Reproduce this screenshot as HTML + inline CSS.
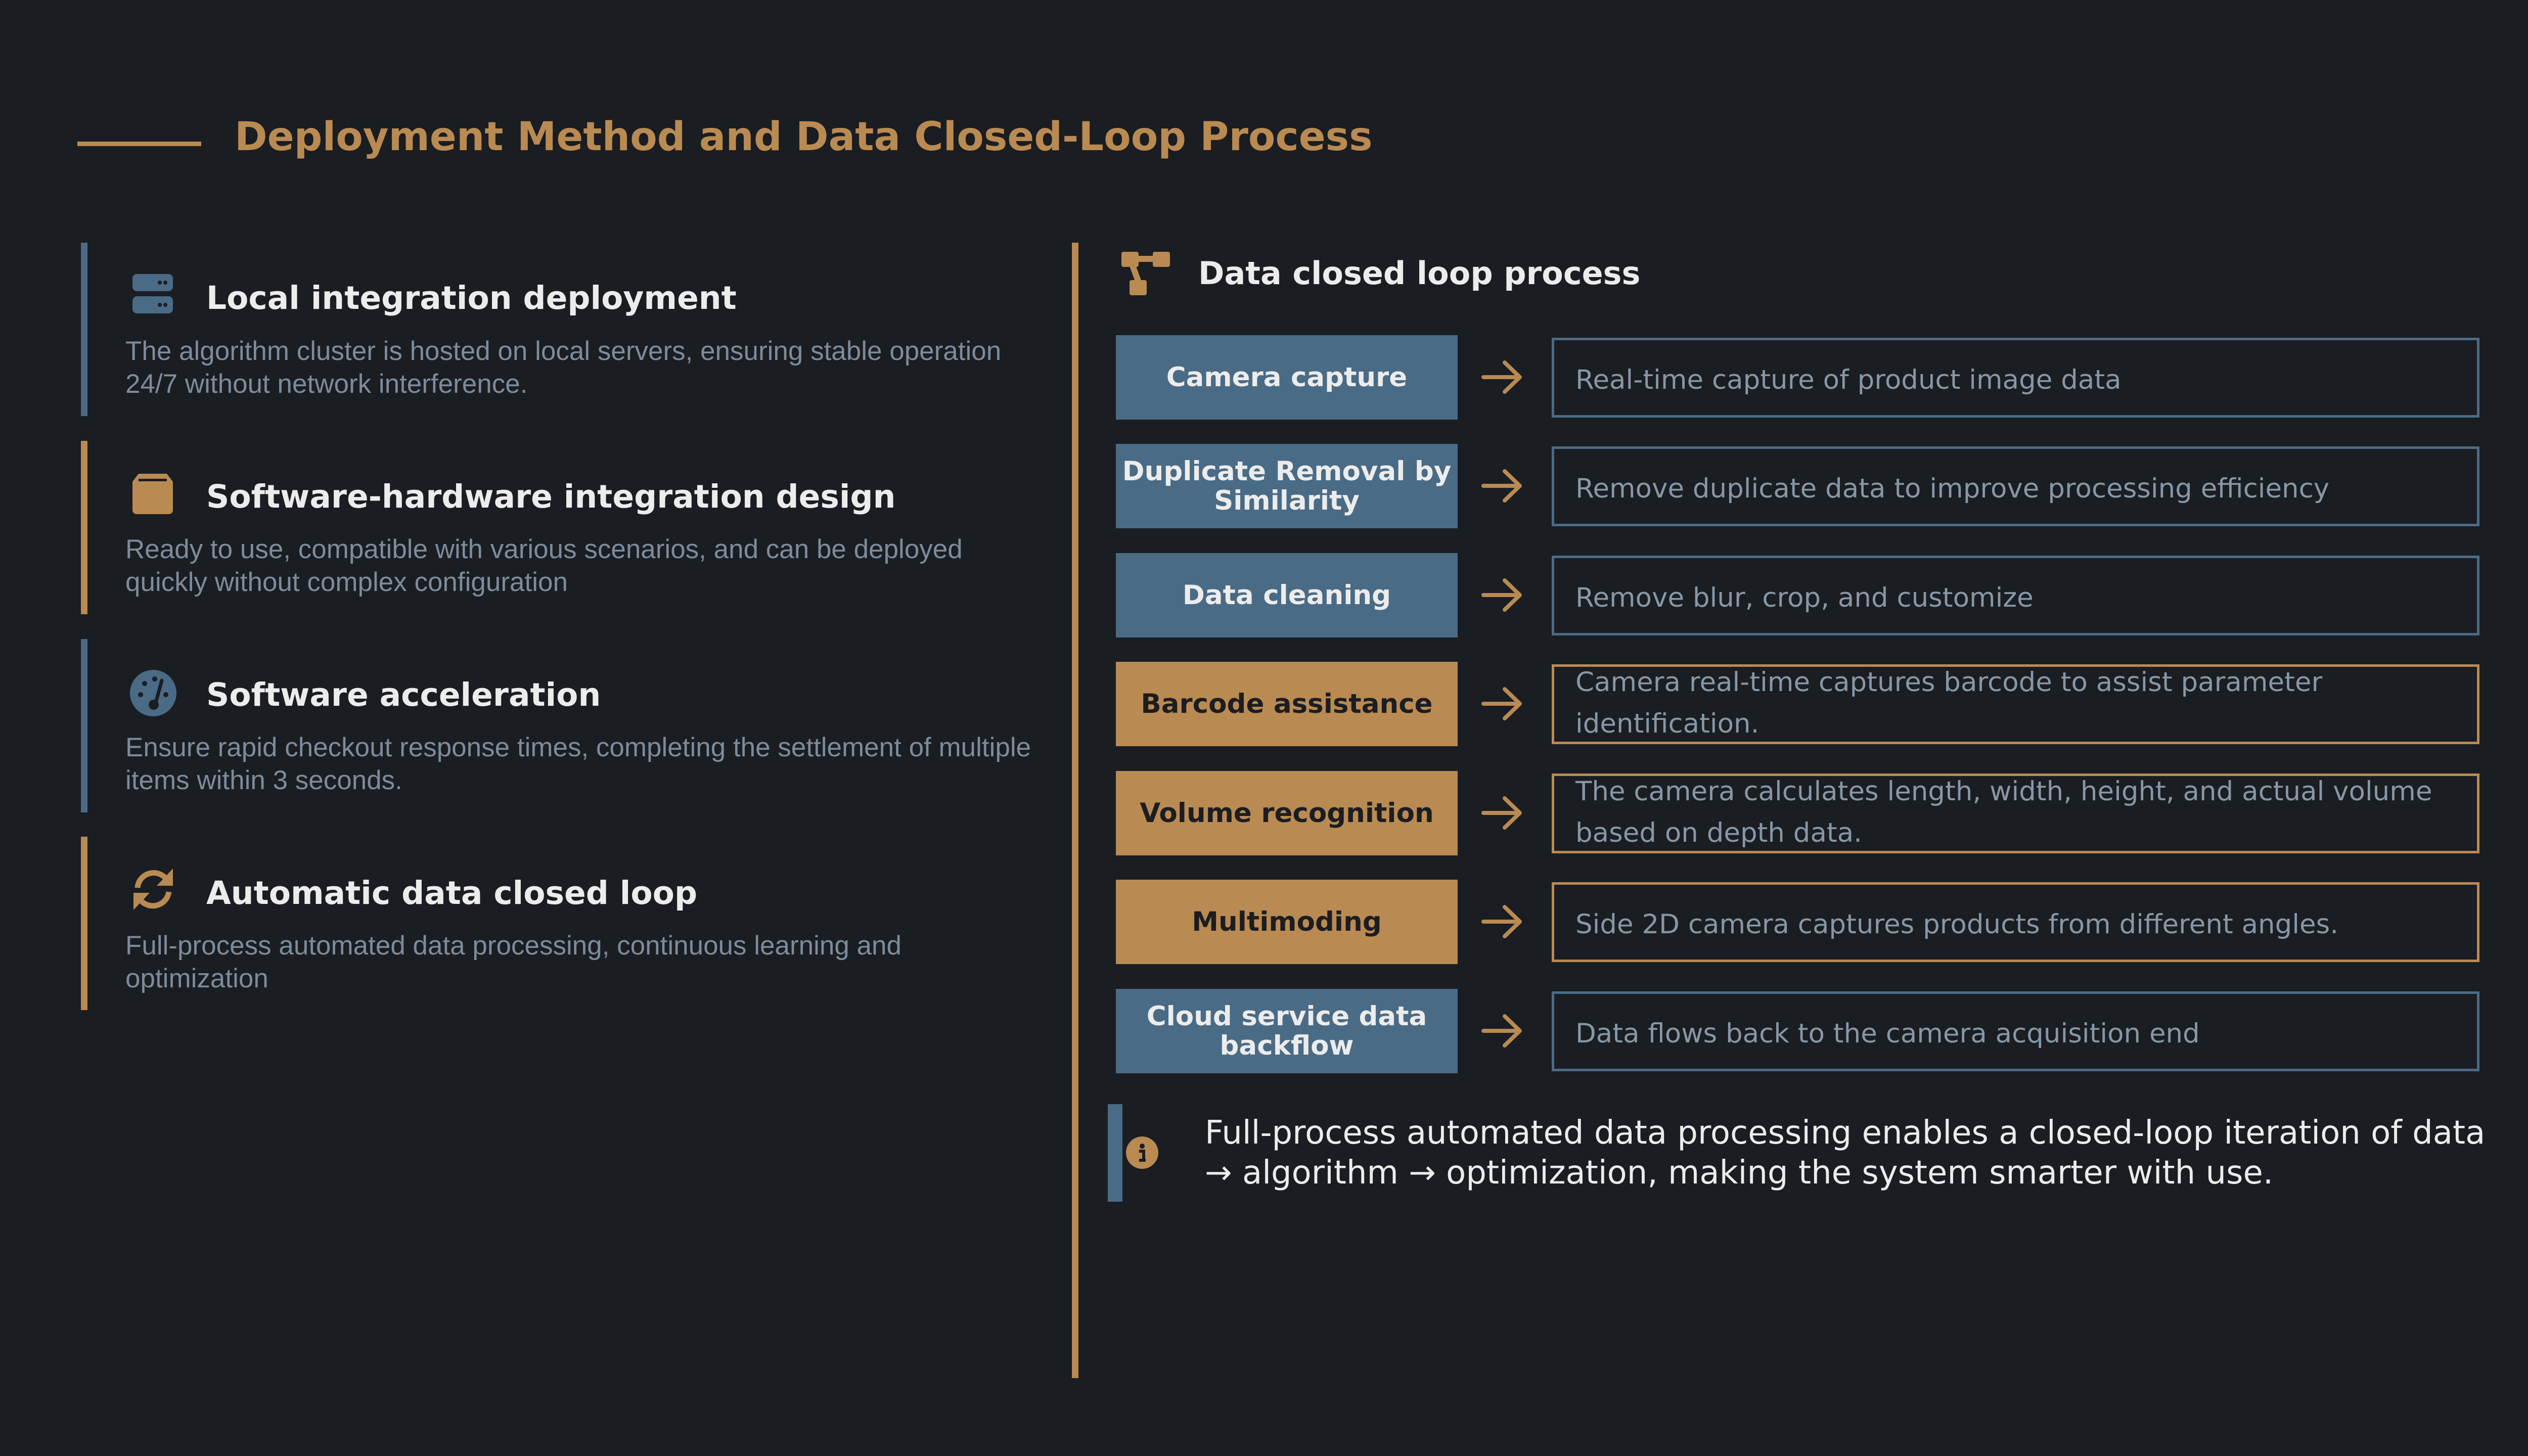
<!DOCTYPE html>
<html><head><meta charset="utf-8"><style>
*{margin:0;padding:0;box-sizing:border-box}
body{width:5120px;height:2880px;background:#1a1d22;position:relative;overflow:hidden;font-family:"DejaVu Sans",sans-serif}
.a{position:absolute;white-space:nowrap}
.bar{position:absolute;width:13px}
.h{position:absolute;font-weight:bold;color:#ececec;font-size:63px;line-height:1;left:408px}
.d{position:absolute;left:248px;font-family:"Liberation Sans",sans-serif;font-size:53px;line-height:65px;color:#7d8c9b;white-space:nowrap}
.lb{position:absolute;left:2207px;width:676px;height:167px;display:flex;align-items:center;justify-content:center;text-align:center;font-weight:bold;font-size:53px;line-height:58px}
.blue{background:#4a6b85;color:#ececec}
.tan{background:#b98a52;color:#1b1d21}
.rb{position:absolute;left:3069px;width:1835px;height:158px;border:5px solid #4a6b85;padding-left:42px;font-size:53px;line-height:82px;color:#8797a5;white-space:nowrap;display:flex;align-items:center}
.rb.t{border-color:#b98a52}
.ar{position:absolute;left:2930px;width:84px;height:70px}
</style></head><body>
<div class="a" style="left:153px;top:280px;width:245px;height:9px;background:#b98a52"></div>
<div class="a" style="left:464px;top:232px;font-size:78px;font-weight:bold;color:#b98a52;line-height:1">Deployment Method and Data Closed-Loop Process</div>

<div class="bar" style="left:160px;top:480px;height:343px;background:#4a6b85"></div>
<div class="bar" style="left:160px;top:872px;height:343px;background:#b98a52"></div>
<div class="bar" style="left:160px;top:1264px;height:343px;background:#4a6b85"></div>
<div class="bar" style="left:160px;top:1655px;height:343px;background:#b98a52"></div>

<svg class="a" style="left:260px;top:540px" width="84" height="84" viewBox="0 0 84 84">
<rect x="2" y="2" width="80" height="34" rx="9" fill="#4a6b85"/><rect x="2" y="46" width="80" height="34" rx="9" fill="#4a6b85"/>
<circle cx="56" cy="19" r="4" fill="#1a1d22"/><circle cx="67" cy="19" r="4" fill="#1a1d22"/><circle cx="56" cy="63" r="4" fill="#1a1d22"/><circle cx="67" cy="63" r="4" fill="#1a1d22"/></svg>
<div class="h" style="top:558px">Local integration deployment</div>
<div class="d" style="top:662px">The algorithm cluster is hosted on local servers, ensuring stable operation<br>24/7 without network interference.</div>

<svg class="a" style="left:260px;top:935px" width="84" height="84" viewBox="0 0 84 84">
<path d="M14 2 H70 L82 18 V74 a8 8 0 0 1 -8 8 H10 a8 8 0 0 1 -8 -8 V18 Z" fill="#b98a52"/><rect x="14" y="12" width="56" height="5" fill="#1a1d22"/></svg>
<div class="h" style="top:951px">Software-hardware integration design</div>
<div class="d" style="top:1054px">Ready to use, compatible with various scenarios, and can be deployed<br>quickly without complex configuration</div>

<svg class="a" style="left:256px;top:1324px" width="94" height="94" viewBox="0 0 94 94">
<circle cx="47" cy="47" r="46" fill="#4a6b85"/><circle cx="22" cy="50" r="5" fill="#1a1d22"/><circle cx="30" cy="28" r="5" fill="#1a1d22"/><circle cx="50" cy="19" r="5" fill="#1a1d22"/><circle cx="72" cy="50" r="5" fill="#1a1d22"/>
<path d="M64 22 L52 66" stroke="#1a1d22" stroke-width="7" stroke-linecap="round"/><circle cx="48" cy="70" r="10" fill="#1a1d22"/></svg>
<div class="h" style="top:1343px">Software acceleration</div>
<div class="d" style="top:1446px">Ensure rapid checkout response times, completing the settlement of multiple<br>items within 3 seconds.</div>

<svg class="a" style="left:256px;top:1712px" width="94" height="94" viewBox="0 0 94 94">
<path d="M16 44 A32 32 0 0 1 74 28" stroke="#b98a52" stroke-width="11" fill="none"/><path d="M86 6 V40 H54 Z" fill="#b98a52"/>
<path d="M78 52 A32 32 0 0 1 20 66" stroke="#b98a52" stroke-width="11" fill="none"/><path d="M8 88 V54 H40 Z" fill="#b98a52"/></svg>
<div class="h" style="top:1735px">Automatic data closed loop</div>
<div class="d" style="top:1838px">Full-process automated data processing, continuous learning and<br>optimization</div>

<div class="bar" style="left:2120px;top:480px;height:2246px;background:#b98a52"></div>

<svg class="a" style="left:2218px;top:498px" width="96" height="86" viewBox="0 0 96 86">
<rect x="0" y="0" width="34" height="30" rx="4" fill="#b98a52"/><rect x="62" y="0" width="34" height="30" rx="4" fill="#b98a52"/>
<rect x="16" y="56" width="34" height="30" rx="4" fill="#b98a52"/><rect x="20" y="8" width="56" height="12" fill="#b98a52"/><path d="M20 22 L34 60" stroke="#b98a52" stroke-width="12"/></svg>
<div class="a" style="left:2370px;top:510px;font-size:62px;font-weight:bold;color:#ececec;line-height:1">Data closed loop process</div>

<div class="lb blue" style="top:663px">Camera capture</div>
<div class="lb blue" style="top:878px">Duplicate Removal by<br>Similarity</div>
<div class="lb blue" style="top:1094px">Data cleaning</div>
<div class="lb tan" style="top:1309px">Barcode assistance</div>
<div class="lb tan" style="top:1525px">Volume recognition</div>
<div class="lb tan" style="top:1740px">Multimoding</div>
<div class="lb blue" style="top:1956px">Cloud service data<br>backflow</div>

<div class="rb" style="top:668px;padding-top:10px">Real-time capture of product image data</div>
<div class="rb" style="top:883px;padding-top:10px">Remove duplicate data to improve processing efficiency</div>
<div class="rb" style="top:1099px;padding-top:10px">Remove blur, crop, and customize</div>
<div class="rb t" style="top:1314px;align-items:flex-start;padding-top:0;overflow:visible"><span style="margin-top:-10px">Camera real-time captures barcode to assist parameter<br>identification.</span></div>
<div class="rb t" style="top:1530px;align-items:flex-start;padding-top:0;overflow:visible"><span style="margin-top:-10px">The camera calculates length, width, height, and actual volume<br>based on depth data.</span></div>
<div class="rb t" style="top:1745px;padding-top:10px">Side 2D camera captures products from different angles.</div>
<div class="rb" style="top:1961px;padding-top:10px">Data flows back to the camera acquisition end</div>

<svg width="0" height="0" style="position:absolute"><defs><g id="arr"><path d="M4 35 H74 M46 6 L76 35 L46 64" stroke="#b98a52" stroke-width="8" fill="none" stroke-linecap="round" stroke-linejoin="round"/></g></defs></svg>
<svg class="ar" style="top:711px" viewBox="0 0 84 70"><use href="#arr"/></svg>
<svg class="ar" style="top:926px" viewBox="0 0 84 70"><use href="#arr"/></svg>
<svg class="ar" style="top:1142px" viewBox="0 0 84 70"><use href="#arr"/></svg>
<svg class="ar" style="top:1357px" viewBox="0 0 84 70"><use href="#arr"/></svg>
<svg class="ar" style="top:1573px" viewBox="0 0 84 70"><use href="#arr"/></svg>
<svg class="ar" style="top:1788px" viewBox="0 0 84 70"><use href="#arr"/></svg>
<svg class="ar" style="top:2004px" viewBox="0 0 84 70"><use href="#arr"/></svg>

<div class="a" style="left:2191px;top:2184px;width:29px;height:193px;background:#4a6b85"></div>
<svg class="a" style="left:2226px;top:2247px" width="66" height="66" viewBox="0 0 66 66"><circle cx="33" cy="33" r="32" fill="#b98a52"/><circle cx="33" cy="20" r="5" fill="#1a1d22"/><path d="M27 30 H36 V46 M27 48 H40" stroke="#1a1d22" stroke-width="6" fill="none"/></svg>
<div class="a" style="left:2383px;top:2202px;font-size:64px;line-height:79px;color:#ececec">Full-process automated data processing enables a closed-loop iteration of data<br>→ algorithm → optimization, making the system smarter with use.</div>
</body></html>
